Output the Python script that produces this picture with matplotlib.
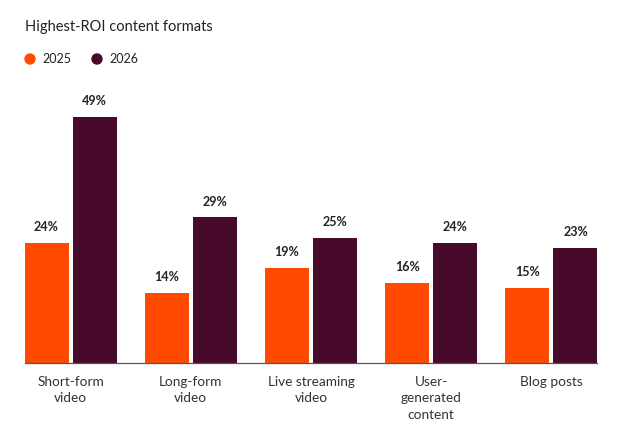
import matplotlib
matplotlib.use("Agg")
import matplotlib.pyplot as plt
import numpy as np

categories = ["Short-form\nvideo", "Long-form\nvideo", "Live streaming\nvideo", "User-\ngenerated\ncontent", "Blog posts"]
series_names = ["2025", "2026"]
values_2025 = [24, 14, 19, 16, 15]
values_2026 = [49, 29, 25, 24, 23]
colors = ["#FF4A00", "#470A2B"]

plt.rcParams['font.family'] = ['Lato', 'DejaVu Sans']

fig = plt.figure(figsize=(6.2, 4.48), dpi=100)
ax = fig.add_axes([25/620, (448-363)/448, 572/620, 276/448])

x = np.arange(len(categories))
w = 0.367
off = 0.2
b1 = ax.bar(x - off, values_2025, w, color=colors[0], label=series_names[0])
b2 = ax.bar(x + off, values_2026, w, color=colors[1], label=series_names[1])

for bars, vals in ((b1, values_2025), (b2, values_2026)):
    for r, v in zip(bars, vals):
        ax.annotate(f"{v}%", (r.get_x() + r.get_width()/2, v), xytext=(0, 7),
                    textcoords="offset points", ha="center", va="bottom",
                    fontsize=9, fontweight="bold", color="#222222")

ax.set_xlim(-0.379, 4.379)
ax.set_ylim(0, 55)
ax.set_yticks([])
ax.set_xticks(x)
ax.set_xticklabels(categories, fontsize=9.8, color="#333333", linespacing=1.45)
ax.tick_params(axis='x', length=0, pad=9)
for s in ["top", "right", "left"]:
    ax.spines[s].set_visible(False)
ax.spines["bottom"].set_color("#555555")
ax.spines["bottom"].set_linewidth(0.9)

fig.text(25/620, 1 - 27/448, "Highest-ROI content formats", fontsize=10.5,
         color="#222222", va="center", ha="left")

# legend
for i, (name, c) in enumerate(zip(series_names, colors)):
    x0 = 30 + i * 67
    fig.patches.append(matplotlib.patches.Ellipse((x0/620, 1 - 59/448), 10/620, 10/448,
                       transform=fig.transFigure, color=c, figure=fig))
    fig.text((x0 + 12)/620, 1 - 59/448, name, fontsize=9, color="#222222",
             va="center", ha="left")

fig.savefig("out.png", dpi=100, facecolor="white")
